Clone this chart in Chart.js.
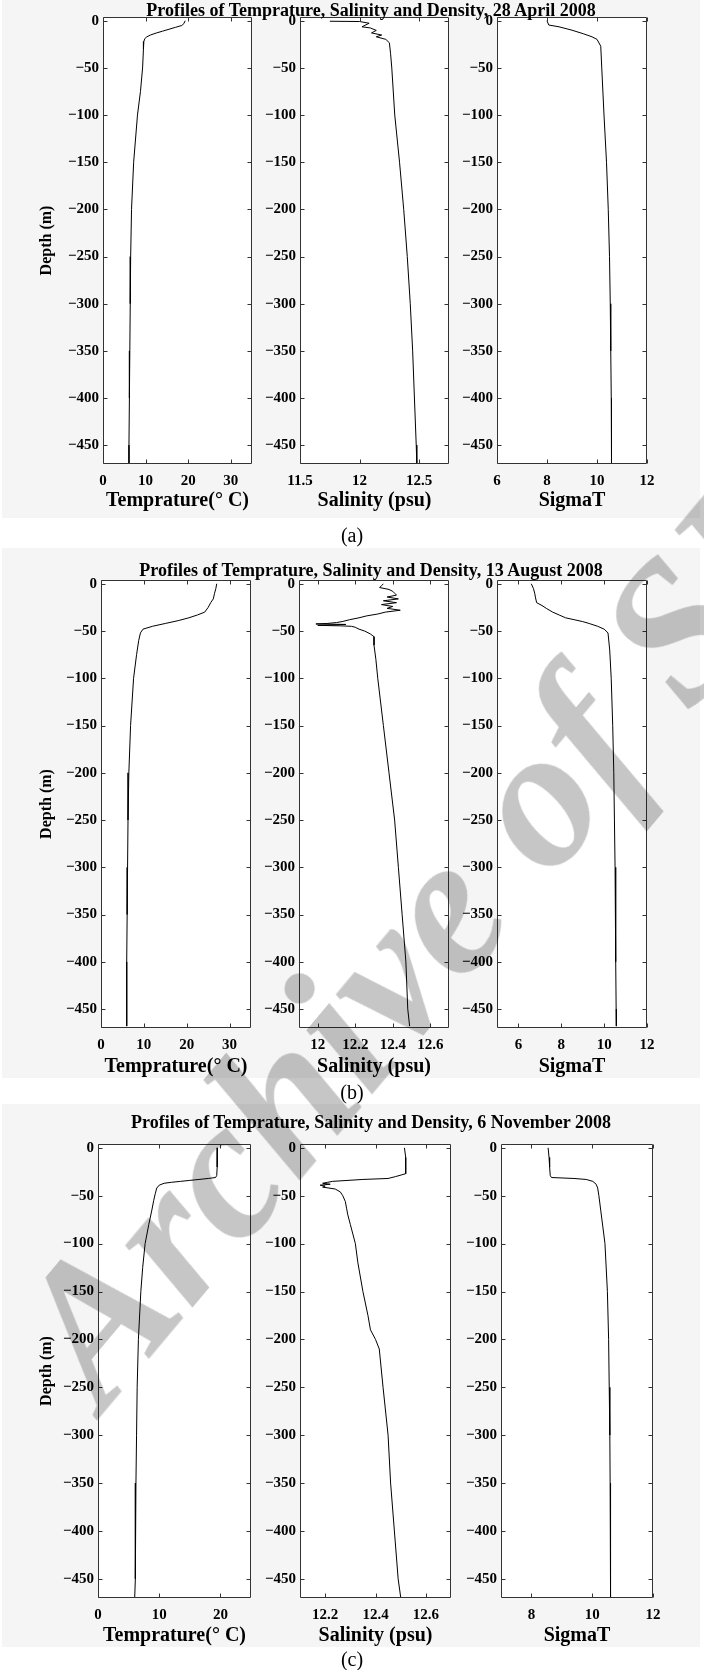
<!DOCTYPE html>
<html>
<head>
<meta charset="utf-8">
<script src="https://cdn.jsdelivr.net/npm/chart.js@4.4.1/dist/chart.umd.min.js"></script>
<style>
  html,body{margin:0;padding:0;background:#fff;}
  body{width:704px;height:1670px;position:relative;overflow:hidden;font-family:"Liberation Serif","Times New Roman",serif;}
  .bg{position:absolute;left:2px;width:698px;background:#f5f5f5;}
  .ttl{position:absolute;left:71px;width:600px;text-align:center;font-weight:bold;font-size:18px;line-height:22px;color:#000;white-space:nowrap;z-index:2;}
  .lab{position:absolute;left:252px;width:200px;text-align:center;font-size:20px;line-height:22px;color:#000;z-index:2;}
  canvas{position:absolute;z-index:1;}
  .wm{position:absolute;left:104px;top:1246px;font-style:italic;font-weight:bold;font-size:200px;line-height:1;color:#c6c6c6;z-index:3;
      white-space:nowrap;transform-origin:0 167px;transform:rotate(-50deg);mix-blend-mode:multiply;pointer-events:none;}
</style>
</head>
<body>
<script>
// ================= DATA =================
const rowTitles = [
  'Profiles of Temprature, Salinity and Density, 28 April 2008',
  'Profiles of Temprature, Salinity and Density, 13 August 2008',
  'Profiles of Temprature, Salinity and Density, 6 November 2008'
];
const rowLetters = ['(a)', '(b)', '(c)'];
const xTitles = ['Temprature(° C)', 'Salinity (psu)', 'SigmaT'];
const yTitle = 'Depth (m)';
const depthTicks = [0, -50, -100, -150, -200, -250, -300, -350, -400, -450];
const depthRange = [-470, 4];

// --- (a) 28 April 2008 ---
const aTempTicks = [0, 10, 20, 30];        const aTempRange = [0, 35];
const aSalTicks  = [11.5, 12, 12.5];       const aSalRange  = [11.5, 12.75];
const aSigTicks  = [6, 8, 10, 12];         const aSigRange  = [6, 12];
const aTempDepth = [0, -3, -5, -7, -9, -11, -13, -15, -17, -19, -22, -30, -50, -75, -100, -150, -200, -250, -300, -350, -400, -450, -470];
const aTemp      = [19.3, 19.0, 18.5, 17.0, 15.5, 14.0, 12.5, 11.2, 10.3, 9.8, 9.6, 9.5, 9.3, 8.8, 8.1, 7.2, 6.7, 6.5, 6.4, 6.3, 6.2, 6.1, 6.1];
const aSalDepth  = [-0.5, -0.8, -2.6, -6.4, -7.6, -10.2, -12.9, -15.1, -17, -19.7, -23.4, -35, -50, -100, -150, -200, -250, -300, -350, -400, -450, -470];
const aSal       = [11.75, 12.0, 12.08, 12.02, 12.09, 12.14, 12.1, 12.185, 12.14, 12.22, 12.25, 12.26, 12.27, 12.295, 12.335, 12.37, 12.40, 12.425, 12.445, 12.46, 12.475, 12.48];
const aSigDepth  = [0, -4.5, -6.4, -10, -13.9, -17, -19.7, -27, -50, -100, -150, -200, -250, -300, -350, -400, -450, -470];
const aSig       = [8.0, 8.07, 8.48, 9.0, 9.47, 9.8, 10.0, 10.15, 10.19, 10.28, 10.38, 10.45, 10.5, 10.53, 10.55, 10.57, 10.58, 10.58];

// --- (b) 13 August 2008 ---
const bTempTicks = [0, 10, 20, 30];        const bTempRange = [0, 35];
const bSalTicks  = [12, 12.2, 12.4, 12.6]; const bSalRange  = [11.9, 12.7];
const bSigTicks  = [6, 8, 10, 12];         const bSigRange  = [5, 12];
const bTempDepth = [0, -5, -10, -16, -20, -25, -30, -33, -36, -39, -42, -45, -48, -52, -60, -75, -100, -150, -200, -250, -300, -350, -400, -450, -468];
const bTemp      = [27.0, 26.8, 26.5, 26.2, 25.6, 25.0, 24.2, 22.5, 20.5, 18.0, 15.0, 12.0, 9.8, 9.2, 8.8, 8.3, 7.6, 6.9, 6.5, 6.3, 6.2, 6.1, 6.0, 6.0, 6.0];
const bSalDepth  = [0, -2, -4, -6, -8, -10, -12, -14, -16, -18, -20, -22, -24, -26, -28, -30, -32, -34, -36, -38, -40, -41, -42, -42.5, -43, -44, -44.5, -45, -46, -48, -50, -53, -56, -65, -80, -100, -150, -200, -250, -300, -350, -400, -450, -468];
const bSal       = [12.35, 12.34, 12.33, 12.38, 12.40, 12.41, 12.42, 12.37, 12.43, 12.35, 12.42, 12.34, 12.40, 12.37, 12.44, 12.36, 12.32, 12.26, 12.22, 12.17, 12.13, 12.10, 12.05, 11.99, 12.15, 12.00, 12.12, 12.18, 12.20, 12.22, 12.25, 12.28, 12.30, 12.30, 12.31, 12.32, 12.35, 12.38, 12.41, 12.43, 12.45, 12.47, 12.48, 12.49];
const bSigDepth  = [0, -5, -10, -15, -20, -23, -26, -30, -33, -36, -38, -40, -42, -45, -48, -52, -70, -100, -150, -200, -250, -300, -350, -400, -450, -468];
const bSig       = [6.6, 6.7, 6.76, 6.8, 6.85, 7.1, 7.3, 7.6, 7.9, 8.2, 8.6, 9.0, 9.3, 9.7, 10.0, 10.18, 10.26, 10.33, 10.40, 10.45, 10.48, 10.51, 10.53, 10.55, 10.56, 10.57];

// --- (c) 6 November 2008 ---
const cTempTicks = [0, 10, 20];            const cTempRange = [0, 25];
const cSalTicks  = [12.2, 12.4, 12.6];     const cSalRange  = [12.1, 12.7];
const cSigTicks  = [8, 10, 12];            const cSigRange  = [7, 12];
const cTempDepth = [0, -10, -20, -29, -31, -32, -33, -34, -35, -36, -37, -39, -42, -48, -55, -65, -80, -100, -125, -150, -200, -250, -300, -350, -400, -450, -469];
const cTemp      = [19.5, 19.5, 19.45, 19.4, 19.2, 18.0, 16.5, 15.0, 13.5, 12.0, 10.8, 10.0, 9.6, 9.35, 9.1, 8.8, 8.3, 7.7, 7.3, 7.0, 6.6, 6.4, 6.3, 6.2, 6.1, 6.1, 6.0];
const cSalDepth  = [0, -10, -20, -27, -30, -32, -33, -35, -36, -37, -38, -39, -40, -41, -43, -46, -50, -56, -63, -70, -80, -90, -100, -120, -150, -175, -190, -200, -210, -250, -300, -350, -400, -450, -469];
const cSal       = [12.515, 12.52, 12.52, 12.52, 12.48, 12.45, 12.35, 12.23, 12.21, 12.19, 12.22, 12.18, 12.2, 12.19, 12.24, 12.26, 12.27, 12.28, 12.285, 12.29, 12.30, 12.31, 12.32, 12.33, 12.35, 12.37, 12.38, 12.40, 12.415, 12.43, 12.45, 12.46, 12.475, 12.49, 12.50];
const cSigDepth  = [0, -10, -20, -29, -31, -32, -33, -35, -38, -42, -50, -65, -90, -100, -150, -200, -250, -300, -350, -400, -450, -469];
const cSig       = [8.55, 8.58, 8.6, 8.62, 8.66, 9.4, 9.8, 10.02, 10.13, 10.18, 10.22, 10.28, 10.38, 10.42, 10.5, 10.54, 10.56, 10.58, 10.59, 10.6, 10.6, 10.61];

// ================= LAYOUT =================
const FONT = '"Liberation Serif","Times New Roman",serif';
const rows = [
  {top: 17,   bottom: 464,  cols: [[103, 252], [300, 449], [497, 647]], title: 10,   xt: 501,  lab: 535,  bg: [0, 518]},
  {top: 580,  bottom: 1028, cols: [[101, 251], [299, 449], [497, 647]], title: 570,  xt: 1067, lab: 1092, bg: [548, 1078]},
  {top: 1144, bottom: 1598, cols: [[98, 251],  [300, 451], [501, 653]], title: 1122, xt: 1636, lab: 1659, bg: [1104, 1647]}
];
const panels = [
  [[aTempDepth, aTemp, aTempRange, aTempTicks], [aSalDepth, aSal, aSalRange, aSalTicks], [aSigDepth, aSig, aSigRange, aSigTicks]],
  [[bTempDepth, bTemp, bTempRange, bTempTicks], [bSalDepth, bSal, bSalRange, bSalTicks], [bSigDepth, bSig, bSigRange, bSigTicks]],
  [[cTempDepth, cTemp, cTempRange, cTempTicks], [cSalDepth, cSal, cSalRange, cSalTicks], [cSigDepth, cSig, cSigRange, cSigTicks]]
];

Chart.defaults.font.family = FONT;
Chart.defaults.color = '#000';

const boxPlugin = {
  id: 'matlabBox',
  beforeDraw(chart) {
    const a = chart.chartArea, c = chart.ctx;
    c.save(); c.fillStyle = '#fff'; c.fillRect(a.left, a.top, a.width, a.height); c.restore();
  },
  afterDatasetsDraw(chart) {
    const {ctx, chartArea: a, scales: {x, y}} = chart;
    const L = Math.round(a.left) + 0.5, R = Math.round(a.right) - 0.5, T = Math.round(a.top) + 0.5, B = Math.round(a.bottom) - 0.5;
    ctx.save();
    ctx.strokeStyle = '#333'; ctx.lineWidth = 1;
    ctx.beginPath();
    ctx.rect(L, T, R - L, B - T);
    const tl = 4;
    x.ticks.forEach(t => {
      const px = Math.round(x.getPixelForValue(t.value)) + 0.5;
      ctx.moveTo(px, B); ctx.lineTo(px, B - tl);
      ctx.moveTo(px, T); ctx.lineTo(px, T + tl);
    });
    y.ticks.forEach(t => {
      const py = Math.round(y.getPixelForValue(t.value)) + 0.5;
      ctx.moveTo(L, py); ctx.lineTo(L + tl, py);
      ctx.moveTo(R, py); ctx.lineTo(R - tl, py);
    });
    ctx.stroke();
    ctx.restore();
  }
};

function addDiv(cls, text, top) {
  const d = document.createElement('div');
  d.className = cls; d.textContent = text; d.style.top = top + 'px';
  document.body.appendChild(d);
  return d;
}

function makeChart(row, ci, panel) {
  const [depth, vals, range, xticks] = panel;
  const [L, R] = row.cols[ci];
  const plotW = R - L, plotH = row.bottom - row.top;
  const first = ci === 0;
  const yW = first ? L - 26 : 54;
  const padTop = 14, padRight = 16, xH = 52;
  const cv = document.createElement('canvas');
  cv.width = yW + plotW + padRight;
  cv.height = padTop + plotH + xH;
  cv.style.left = (L - yW) + 'px';
  cv.style.top = (row.top - padTop) + 'px';
  document.body.appendChild(cv);

  const xtLH = 20 * 1.2;
  const xtPadBottom = Math.max(0, xH - xtLH / 2 - (row.xt - row.bottom));
  const ytLH = 16 * 1.2;
  const ytPad = 47 - 26 - ytLH / 2;

  const pts = depth.map((d, i) => ({x: vals[i], y: d}));
  const chart = new Chart(cv, {
    type: 'scatter',
    data: {datasets: [{data: pts, showLine: true, borderColor: '#000', borderWidth: 1,
      pointRadius: 0, pointHoverRadius: 0, tension: 0, fill: false}]},
    options: {
      responsive: false, animation: false, events: [],
      plugins: {legend: {display: false}, tooltip: {enabled: false}},
      layout: {padding: {top: padTop, right: padRight, left: 0, bottom: 0}},
      scales: {
        x: {
          type: 'linear', position: 'bottom', min: range[0], max: range[1],
          afterBuildTicks: s => { s.ticks = xticks.map(v => ({value: v})); },
          afterFit: s => { s.height = xH; },
          grid: {display: false, drawTicks: false}, border: {display: false},
          ticks: {font: {size: 15, weight: 'bold'}, color: '#000', padding: 8, maxRotation: 0, autoSkip: false,
                  callback: v => String(v)},
          title: {display: true, text: xTitles[ci], font: {size: 20, weight: 'bold'}, color: '#000',
                  padding: {top: 0, bottom: xtPadBottom}}
        },
        y: {
          type: 'linear', position: 'left', min: depthRange[0], max: depthRange[1],
          afterBuildTicks: s => { s.ticks = depthTicks.map(v => ({value: v})); },
          afterFit: s => { s.width = yW; },
          grid: {display: false, drawTicks: false}, border: {display: false},
          ticks: {font: {size: 15, weight: 'bold'}, color: '#000', padding: 4, autoSkip: false,
                  callback: v => (v < 0 ? '\u2212' + Math.abs(v) : String(v))},
          title: {display: first, text: yTitle, font: {size: 16, weight: 'bold'}, color: '#000',
                  padding: {top: ytPad, bottom: 0}}
        }
      }
    },
    plugins: [boxPlugin]
  });
  // align the chart area exactly on the intended plot box
  const a = chart.chartArea;
  cv.style.left = (L - a.left) + 'px';
  cv.style.top = (row.top - a.top) + 'px';
  return chart;
}

rows.forEach((row, ri) => {
  const bg = document.createElement('div');
  bg.className = 'bg';
  bg.style.top = row.bg[0] + 'px';
  bg.style.height = (row.bg[1] - row.bg[0]) + 'px';
  document.body.appendChild(bg);
  addDiv('ttl', rowTitles[ri], row.title - 11);
  addDiv('lab', rowLetters[ri], row.lab - 11);
  panels[ri].forEach((p, ci) => makeChart(row, ci, p));
});

const wm = document.createElement('div');
wm.className = 'wm';
wm.textContent = 'Archive of SID';
document.body.appendChild(wm);
</script>
</body>
</html>
